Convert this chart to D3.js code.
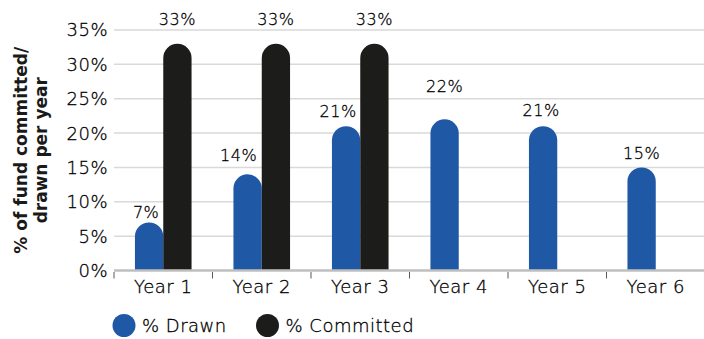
<!DOCTYPE html>
<html>
<head>
<meta charset="utf-8">
<script src="https://cdn.jsdelivr.net/npm/d3@7"></script>
<style>
  html, body { margin: 0; padding: 0; background: #ffffff; }
  svg { display: block; font-family: "DejaVu Sans", sans-serif; }
  .lbl { font-weight: 300; fill: #000000; stroke: #000000; stroke-width: 0.3px; letter-spacing: 0.5px; }
</style>
</head>
<body>
<svg id="chart" width="704" height="339"></svg>
<script>
// Share of fund drawn / committed in each year of the fund's life
const years = ["Year 1", "Year 2", "Year 3", "Year 4", "Year 5", "Year 6"];
const seriesNames = ["% Drawn", "% Committed"];
const drawn = [7, 14, 21, 22, 21, 15];
const committed = [33, 33, 33, null, null, null];
const yTicks = [0, 5, 10, 15, 20, 25, 30, 35];

const colors = { "% Drawn": "#1f58a5", "% Committed": "#1c1c1a" };
// hand-placed value labels: extra lift / sideways shift in px
const drawnLabelLift = [-5, 4.5, 0, 18.5, 1.5, -0.5];
const drawnLabelShift = [-3, -9, -8, 0, -2, 0];
const committedLabelLift = [10, 10, 10, 0, 0, 0];

const svg = d3.select("#chart");
const margin = { left: 114, top: 30, bottom: 270.5 };

const x0 = d3.scaleBand().domain(years).range([margin.left, 705]).padding(0);
const x1 = d3.scaleBand().domain(seriesNames).range([0, x0.bandwidth()])
  .paddingInner(0).paddingOuter(0.74);
const y = d3.scaleLinear().domain([0, 35]).range([margin.bottom, margin.top]);

// horizontal gridlines
svg.append("g").selectAll("line").data(yTicks.filter(t => t > 0)).join("line")
  .attr("x1", margin.left).attr("x2", 704)
  .attr("y1", d => y(d)).attr("y2", d => y(d))
  .attr("stroke", "#d9d9d9").attr("stroke-width", 1.5);

// y tick labels
svg.append("g").selectAll("text").data(yTicks).join("text")
  .attr("class", "lbl")
  .attr("x", 108).attr("y", d => y(d)).attr("dy", "0.36em")
  .attr("text-anchor", "end").attr("font-size", 18)
  .text(d => d + "%");

// bar with a fully rounded top
function roundTopBar(x, w, v) {
  const r = w / 2, yb = y(0), yt = y(v);
  const p = d3.path();
  p.moveTo(x, yb);
  p.lineTo(x, yt + r);
  p.arc(x + r, yt + r, r, Math.PI, 0);
  p.lineTo(x + w, yb);
  p.closePath();
  return p.toString();
}

const rows = years.map((yr, i) => ({
  year: yr,
  values: [
    { key: "% Drawn", value: drawn[i], lift: drawnLabelLift[i], shift: drawnLabelShift[i] },
    { key: "% Committed", value: committed[i], lift: committedLabelLift[i], shift: 0 }
  ].filter(d => d.value != null)
}));

const groups = svg.append("g").selectAll("g").data(rows).join("g")
  .attr("transform", d => `translate(${x0(d.year)},0)`);

groups.selectAll("path").data(d => d.values).join("path")
  .attr("d", d => roundTopBar(x1(d.key), x1.bandwidth(), d.value))
  .attr("fill", d => colors[d.key]);

groups.selectAll("text").data(d => d.values).join("text")
  .attr("class", "lbl")
  .attr("x", d => x1(d.key) + x1.bandwidth() / 2 + d.shift)
  .attr("y", d => y(d.value) - 9 - d.lift)
  .attr("text-anchor", "middle").attr("font-size", 16)
  .text(d => d.value + "%");

// x axis line and category ticks
svg.append("line")
  .attr("x1", margin.left).attr("x2", 704)
  .attr("y1", y(0)).attr("y2", y(0))
  .attr("stroke", "#bfbfbf").attr("stroke-width", 2.5);

const xAxis = d3.axisBottom(x0).tickSize(0).tickPadding(10);
const gx = svg.append("g").attr("transform", `translate(0,${y(0)})`).call(xAxis);
gx.select(".domain").remove();
gx.selectAll("text").attr("class", "lbl").attr("font-size", 18)
  .attr("font-family", "'DejaVu Sans', sans-serif");

svg.append("g").selectAll("line").data(years.map(d => x0(d))).join("line")
  .attr("x1", d => d).attr("x2", d => d)
  .attr("y1", y(0) + 1.5).attr("y2", y(0) + 8)
  .attr("stroke", "#595959").attr("stroke-width", 1);

// y axis title
const title = svg.append("text")
  .attr("transform", `translate(27,${(margin.top + margin.bottom) / 2}) rotate(-90)`)
  .attr("text-anchor", "middle").attr("font-size", 17).attr("font-weight", "bold")
  .attr("fill", "#1a1a1a");
title.append("tspan").attr("x", 0).attr("y", 0).text("% of fund committed/");
title.append("tspan").attr("x", 0).attr("y", 20).text("drawn per year");

// legend
const legendX = [124, 267.5];
const legend = svg.append("g").selectAll("g").data(seriesNames).join("g")
  .attr("transform", (d, i) => `translate(${legendX[i]},325.5)`);
legend.append("circle").attr("r", 11.5).attr("fill", d => colors[d]);
legend.append("text").attr("class", "lbl").attr("x", 18).attr("dy", "0.38em")
  .attr("font-size", 18).text(d => d);
</script>
</body>
</html>
